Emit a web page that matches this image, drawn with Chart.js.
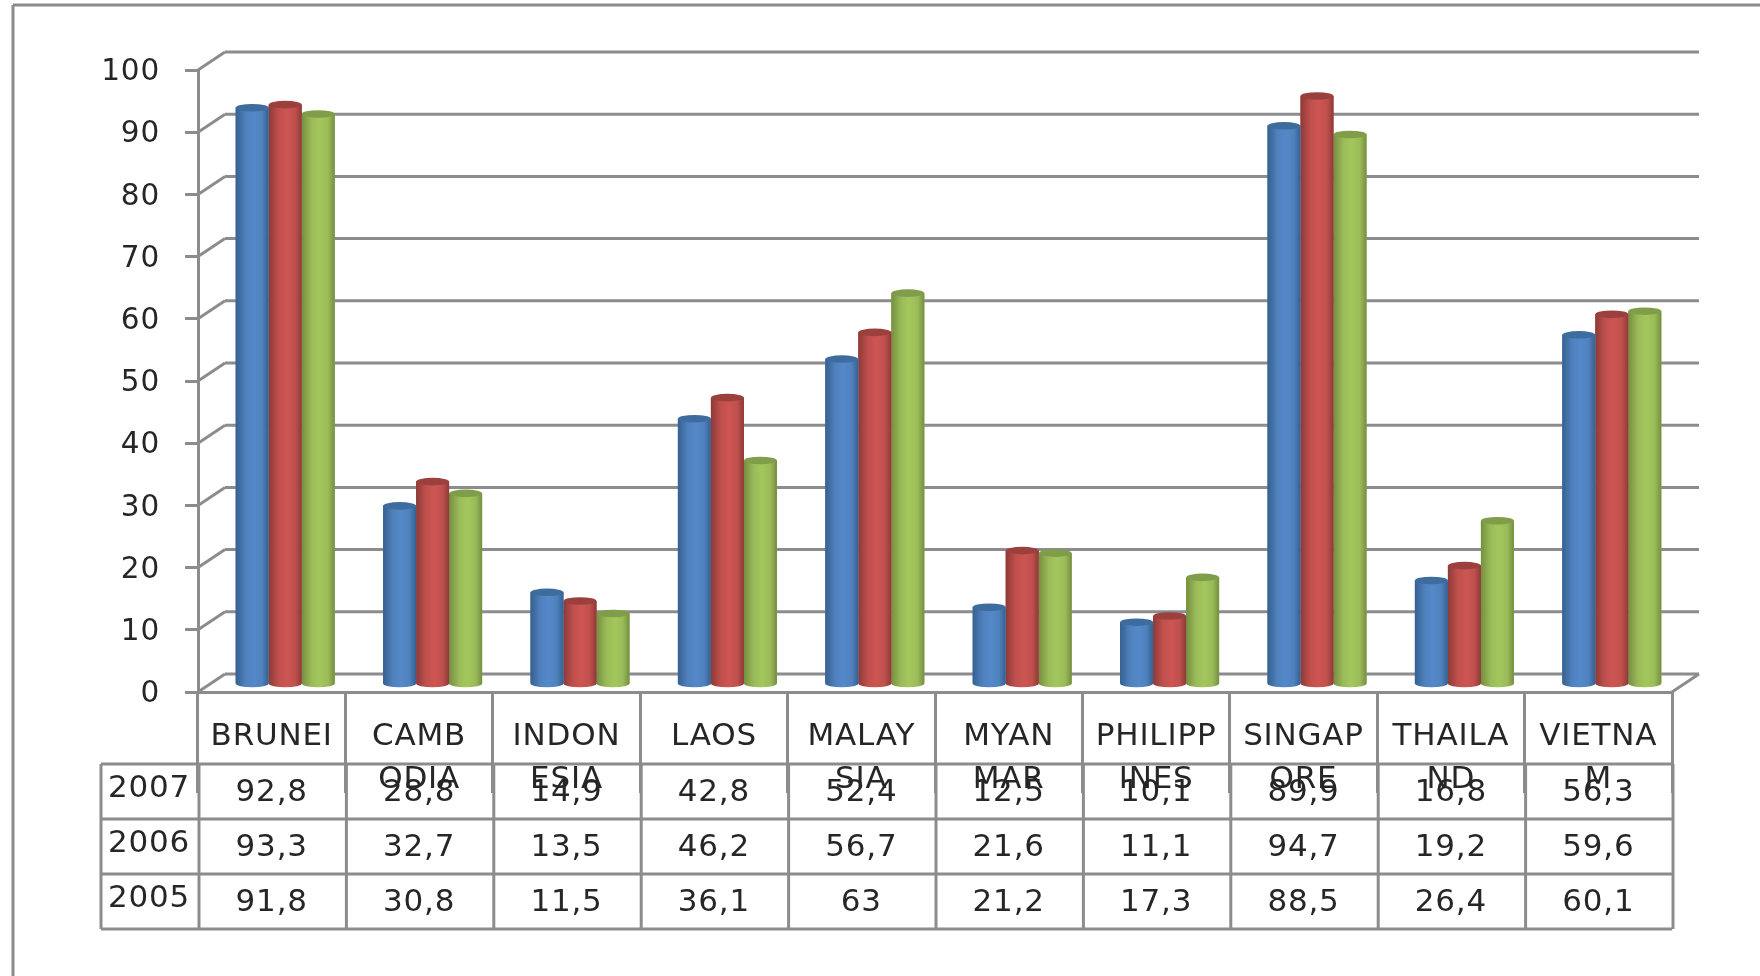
<!DOCTYPE html>
<html>
<head>
<meta charset="utf-8">
<title>ASEAN</title>
<script src="https://cdn.jsdelivr.net/npm/chart.js@4/dist/chart.umd.min.js"></script>
<style>
  html, body { margin: 0; padding: 0; background: #fff; }
  canvas { display: block; filter: blur(0.75px); }
</style>
</head>
<body>
<canvas id="chart" width="1760" height="976"></canvas>
<script>
const categories = [
  ['BRUNEI'], ['CAMB', 'ODIA'], ['INDON', 'ESIA'], ['LAOS'], ['MALAY', 'SIA'],
  ['MYAN', 'MAR'], ['PHILIPP', 'INES'], ['SINGAP', 'ORE'], ['THAILA', 'ND'], ['VIETNA', 'M'],
]
const years = ['2007', '2006', '2005']
const values2007 = [92.8, 28.8, 14.9, 42.8, 52.4, 12.5, 10.1, 89.9, 16.8, 56.3]
const values2006 = [93.3, 32.7, 13.5, 46.2, 56.7, 21.6, 11.1, 94.7, 19.2, 59.6]
const values2005 = [91.8, 30.8, 11.5, 36.1, 63, 21.2, 17.3, 88.5, 26.4, 60.1]
const seriesValues = [values2007, values2006, values2005]

const FONT = '"DejaVu Sans"'
const FONT_SIZE = 31
const TEXT = '#262626'
const LINE = '#8c8c8c'
const DEPTH_X = 27
const DEPTH_Y = -18
const BAR_SHIFT_X = 13.5
const BAR_SHIFT_Y = -7

const barColors = [
  { main: '#4f81bd', light: '#5488c9', dark: '#36608f', cap: '#3f6c9e' },
  { main: '#c0504d', light: '#cd5552', dark: '#8c3a38', cap: '#9c403e' },
  { main: '#9bbb59', light: '#a3c75c', dark: '#748f40', cap: '#809d4a' },
]

const line = (ctx, x1, y1, x2, y2) => {
  ctx.beginPath()
  ctx.moveTo(x1, y1)
  ctx.lineTo(x2, y2)
  ctx.stroke()
}

const wallsPlugin = {
  id: 'walls',
  beforeDraw(chart) {
    chart.ctx.letterSpacing = '0.8px'
    // tick labels sit a little under their tick
    chart.scales.y.getLabelItems().forEach((item) => {
      item.options.translation[1] += 2.5
    })
  },
  beforeDatasetsDraw(chart) {
    const { ctx, chartArea, scales } = chart
    ctx.save()
    ctx.strokeStyle = LINE
    ctx.lineWidth = 3
    scales.y.ticks.forEach((tick) => {
      const y = scales.y.getPixelForValue(tick.value)
      line(ctx, chartArea.left, y, chartArea.left + DEPTH_X, y + DEPTH_Y)
      line(ctx, chartArea.left + DEPTH_X, y + DEPTH_Y, chartArea.right + DEPTH_X, y + DEPTH_Y)
    })
    line(ctx, chartArea.right, chartArea.bottom, chartArea.right + DEPTH_X, chartArea.bottom + DEPTH_Y)
    ctx.restore()
    // bars stand in the middle of the floor
    ctx.save()
    ctx.translate(BAR_SHIFT_X, BAR_SHIFT_Y)
  },
  afterDatasetsDraw(chart) {
    chart.ctx.restore()
  },
}

const cylinderPlugin = {
  id: 'cylinder',
  afterDatasetDraw(chart, args) {
    const { ctx } = chart
    const colors = barColors[args.index]
    args.meta.data.forEach((bar) => {
      const left = bar.x - bar.width / 2
      const rx = bar.width / 2
      const ry = 3.8
      const grad = ctx.createLinearGradient(left, 0, left + bar.width, 0)
      grad.addColorStop(0, colors.dark)
      grad.addColorStop(0.3, colors.main)
      grad.addColorStop(0.55, colors.light)
      grad.addColorStop(0.8, colors.main)
      grad.addColorStop(1, colors.dark)
      ctx.save()
      ctx.fillStyle = grad
      ctx.beginPath()
      ctx.moveTo(left, bar.y)
      ctx.lineTo(left, bar.base)
      ctx.ellipse(bar.x, bar.base, rx, ry, 0, Math.PI, 0, true)
      ctx.lineTo(left + bar.width, bar.y)
      ctx.closePath()
      ctx.fill()
      ctx.fillStyle = colors.cap
      ctx.beginPath()
      ctx.ellipse(bar.x, bar.y, rx, ry, 0, 0, Math.PI * 2)
      ctx.fill()
      ctx.restore()
    })
  },
}

const formatValue = (v) => String(v).replace('.', ',')

const tablePlugin = {
  id: 'dataTable',
  afterDraw(chart) {
    const { ctx, chartArea } = chart
    const colWidth = (chartArea.right - chartArea.left) / categories.length
    const tableLeft = 101
    const rowLines = [764, 819, 874, 929]
    ctx.save()
    // outer frame of the picture
    ctx.strokeStyle = '#8a8a8a'
    ctx.lineWidth = 3
    line(ctx, 13, 976, 13, 5)
    line(ctx, 13, 5, 1760, 5)

    ctx.strokeStyle = LINE
    ctx.lineWidth = 3
    rowLines.forEach((y) => line(ctx, tableLeft, y, chartArea.right, y))
    line(ctx, tableLeft, rowLines[0], tableLeft, rowLines[3])
    for (let i = 0; i <= categories.length; i++) {
      const x = chartArea.left + i * colWidth + 1
      line(ctx, x, rowLines[0], x, rowLines[3])
    }

    ctx.fillStyle = TEXT
    ctx.font = `${FONT_SIZE}px ${FONT}`
    ctx.textBaseline = 'middle'
    years.forEach((year, row) => {
      ctx.textAlign = 'left'
      ctx.fillText(year, 108, rowLines[row] + 25)
      ctx.textAlign = 'center'
      seriesValues[row].forEach((v, i) => {
        ctx.fillText(formatValue(v), chartArea.left + (i + 0.5) * colWidth, rowLines[row] + 28.5)
      })
    })
    ctx.restore()
  },
}

new Chart(document.getElementById('chart'), {
  type: 'bar',
  data: {
    labels: categories,
    datasets: years.map((year, i) => ({
      label: year,
      data: seriesValues[i],
      backgroundColor: barColors[i].main,
      borderWidth: 0,
      barPercentage: 1,
      categoryPercentage: 0.672,
    })),
  },
  plugins: [wallsPlugin, cylinderPlugin, tablePlugin],
  options: {
    responsive: false,
    animation: false,
    devicePixelRatio: 1,
    layout: { padding: { top: 70, right: 88, left: 0, bottom: 0 } },
    plugins: { legend: { display: false }, tooltip: { enabled: false } },
    scales: {
      x: {
        offset: true,
        afterFit: (scale) => { scale.height = 284 },
        border: { display: true, color: LINE, width: 3 },
        grid: { offset: true, drawOnChartArea: false, drawTicks: true, tickLength: 101, color: LINE, lineWidth: 3 },
        ticks: {
          color: TEXT,
          font: { family: FONT, size: FONT_SIZE, lineHeight: 1.39 },
          padding: -78,
          autoSkip: false,
          maxRotation: 0,
          minRotation: 0,
        },
      },
      y: {
        min: 0,
        max: 100,
        afterFit: (scale) => { scale.width = 198 },
        border: { display: true, color: LINE, width: 3 },
        grid: { drawOnChartArea: false, drawTicks: true, tickLength: 13, color: LINE, lineWidth: 3 },
        ticks: {
          stepSize: 10,
          color: TEXT,
          font: { family: FONT, size: 29.5 },
          padding: 25,
        },
      },
    },
  },
})
</script>
</body>
</html>
